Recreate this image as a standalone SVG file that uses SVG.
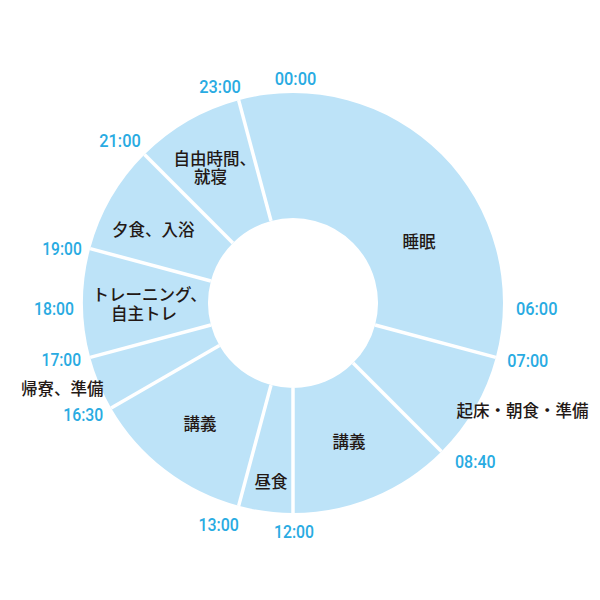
<svg xmlns="http://www.w3.org/2000/svg" width="600" height="600" viewBox="0 0 600 600">
<style>
.seg{fill:#bde3f8;}
.div{stroke:#ffffff;stroke-width:3.5;fill:none;}
.lbl{font-family:"Noto Sans CJK JP","Noto Sans CJK SC",sans-serif;font-size:16.5px;fill:#231815;font-weight:500;}
.tm{font-family:Roboto,"Liberation Sans",sans-serif;font-size:19px;font-weight:500;fill:#29abe2;text-anchor:middle;}
</style>
<rect width="600" height="600" fill="#ffffff"/>
<g id="sleep">
<path class="seg" d="M 238.648 100.156 A 210 210 0 0 1 495.844 357.352 L 375.104 325 A 85 85 0 0 0 271 220.896 Z"/>
<text class="lbl" x="419" y="248" text-anchor="middle">睡眠</text>
</g>
<g id="breakfast">
<path class="seg" d="M 495.844 357.352 A 210 210 0 0 1 441.492 451.492 L 353.104 363.104 A 85 85 0 0 0 375.104 325 Z"/>
<text class="lbl" x="456.5" y="417">起床・朝食・準備</text>
</g>
<g id="lecture-am">
<path class="seg" d="M 441.492 451.492 A 210 210 0 0 1 293 513 L 293 388 A 85 85 0 0 0 353.104 363.104 Z"/>
<text class="lbl" x="349" y="448" text-anchor="middle">講義</text>
</g>
<g id="lunch">
<path class="seg" d="M 293 513 A 210 210 0 0 1 238.648 505.844 L 271 385.104 A 85 85 0 0 0 293 388 Z"/>
<text class="lbl" x="271" y="487.5" text-anchor="middle">昼食</text>
</g>
<g id="lecture-pm">
<path class="seg" d="M 238.648 505.844 A 210 210 0 0 1 111.135 408 L 219.388 345.5 A 85 85 0 0 0 271 385.104 Z"/>
<text class="lbl" x="200" y="430" text-anchor="middle">講義</text>
</g>
<g id="return">
<path class="seg" d="M 111.135 408 A 210 210 0 0 1 90.156 357.352 L 210.896 325 A 85 85 0 0 0 219.388 345.5 Z"/>
<text class="lbl" x="21" y="395">帰寮、準備</text>
</g>
<g id="training">
<path class="seg" d="M 90.156 357.352 A 210 210 0 0 1 90.156 248.648 L 210.896 281 A 85 85 0 0 0 210.896 325 Z"/>
<text class="lbl" x="92.5" y="301">トレーニング、</text>
<text class="lbl" x="144" y="319.5" text-anchor="middle">自主トレ</text>
</g>
<g id="dinner">
<path class="seg" d="M 90.156 248.648 A 210 210 0 0 1 144.508 154.508 L 232.896 242.896 A 85 85 0 0 0 210.896 281 Z"/>
<text class="lbl" x="112" y="236">夕食、入浴</text>
</g>
<g id="free">
<path class="seg" d="M 144.508 154.508 A 210 210 0 0 1 238.648 100.156 L 271 220.896 A 85 85 0 0 0 232.896 242.896 Z"/>
<text class="lbl" x="173.5" y="164.5">自由時間、</text>
<text class="lbl" x="210.5" y="182.5" text-anchor="middle">就寝</text>
</g>
<g id="connectors">
<line class="div" x1="271" y1="220.896" x2="238.648" y2="100.156"/>
<line class="div" x1="375.104" y1="325" x2="495.844" y2="357.352"/>
<line class="div" x1="353.104" y1="363.104" x2="441.492" y2="451.492"/>
<line class="div" x1="293" y1="388" x2="293" y2="513"/>
<line class="div" x1="271" y1="385.104" x2="238.648" y2="505.844"/>
<line class="div" x1="219.388" y1="345.5" x2="111.135" y2="408"/>
<line class="div" x1="210.896" y1="325" x2="90.156" y2="357.352"/>
<line class="div" x1="210.896" y1="281" x2="90.156" y2="248.648"/>
<line class="div" x1="232.896" y1="242.896" x2="144.508" y2="154.508"/>
</g>
<g id="time-labels">
<text class="tm" x="295.5" y="85" textLength="41.5" lengthAdjust="spacingAndGlyphs">00:00</text>
<text class="tm" x="220" y="92.7" textLength="41.5" lengthAdjust="spacingAndGlyphs">23:00</text>
<text class="tm" x="120" y="147.3" textLength="41.5" lengthAdjust="spacingAndGlyphs">21:00</text>
<text class="tm" x="62" y="255" textLength="39.5" lengthAdjust="spacingAndGlyphs">19:00</text>
<text class="tm" x="54" y="315" textLength="40" lengthAdjust="spacingAndGlyphs">18:00</text>
<text class="tm" x="61.3" y="366" textLength="39.5" lengthAdjust="spacingAndGlyphs">17:00</text>
<text class="tm" x="83.3" y="420.7" textLength="40" lengthAdjust="spacingAndGlyphs">16:30</text>
<text class="tm" x="218.7" y="530.7" textLength="40.5" lengthAdjust="spacingAndGlyphs">13:00</text>
<text class="tm" x="294" y="538.3" textLength="40" lengthAdjust="spacingAndGlyphs">12:00</text>
<text class="tm" x="536.7" y="315" textLength="41.5" lengthAdjust="spacingAndGlyphs">06:00</text>
<text class="tm" x="527.8" y="367.3" textLength="41" lengthAdjust="spacingAndGlyphs">07:00</text>
<text class="tm" x="475.3" y="468.3" textLength="40.5" lengthAdjust="spacingAndGlyphs">08:40</text>
</g>
</svg>
